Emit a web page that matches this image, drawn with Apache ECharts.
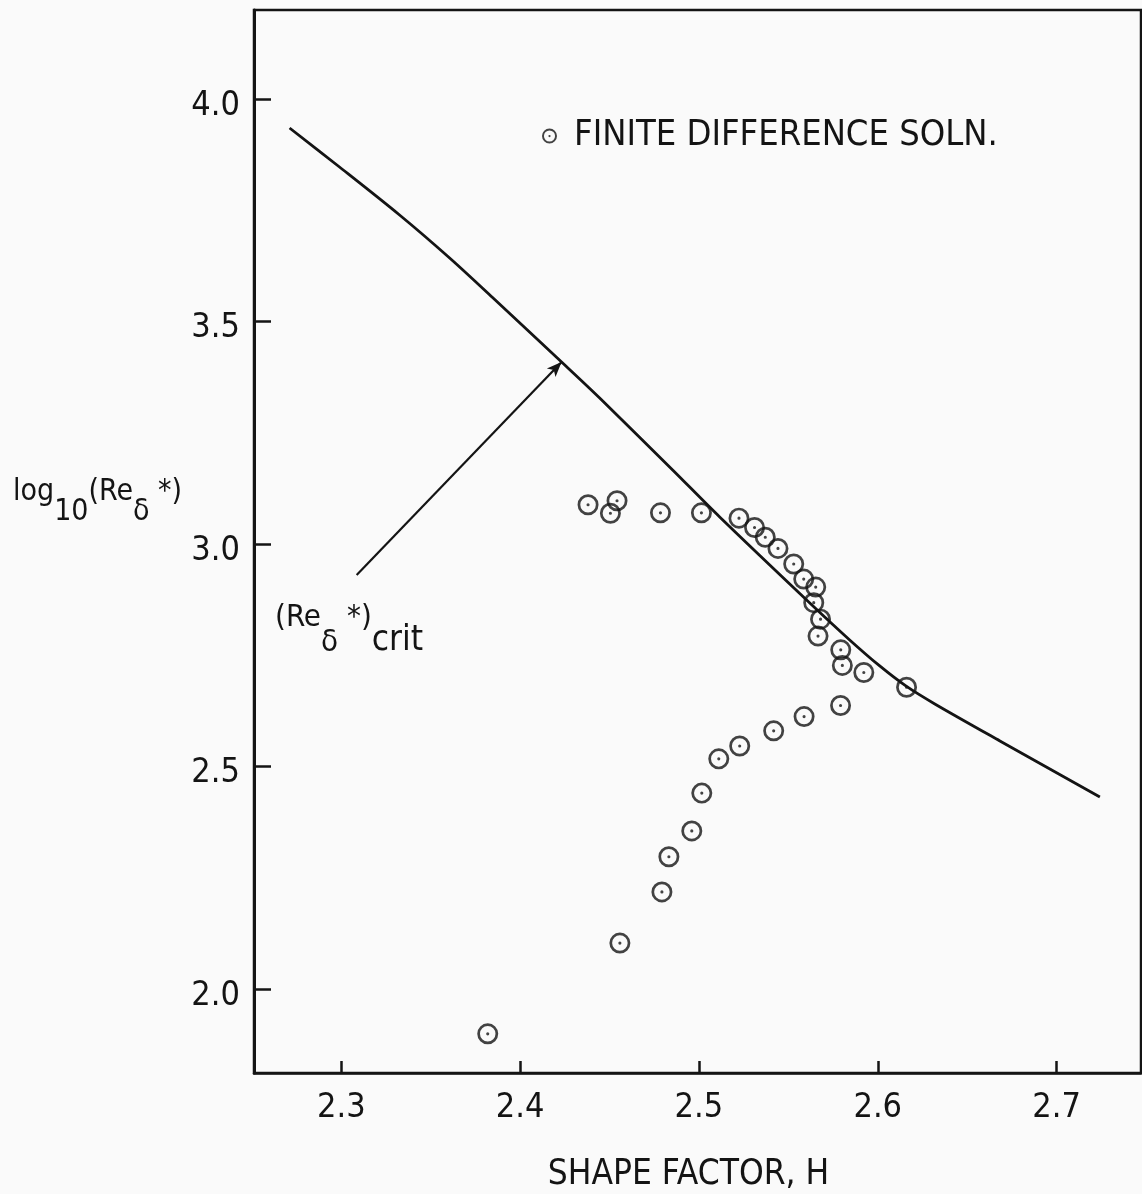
<!DOCTYPE html>
<html><head><meta charset="utf-8">
<script src="https://cdn.jsdelivr.net/npm/echarts@6/dist/echarts.min.js"></script>
<style>html,body{margin:0;padding:0;background:#fafafa}#c{width:1142px;height:1194px}</style>
</head><body><div id="c"></div>
<script>
// Critical Reynolds number curve (shape factor H, log10 Re)
const curveH = [2.2711, 2.2990, 2.3326, 2.3606, 2.3846, 2.4232, 2.4445, 2.4853, 2.5116, 2.5620,
  2.5843, 2.6011, 2.6157, 2.6319, 2.6683, 2.7242];
const curveV = [3.9348, 3.8472, 3.7393, 3.6427, 3.5539, 3.4090, 3.3281, 3.1663, 3.0607, 2.8674,
  2.7843, 2.7258, 2.6809, 2.6404, 2.5573, 2.4315];
// Finite difference solution points
const pointsH = [2.438, 2.4542, 2.4505, 2.4785, 2.5014, 2.5224, 2.5311, 2.5371, 2.5442, 2.553,
  2.5586, 2.5653, 2.5642, 2.568, 2.5666, 2.5793, 2.5802, 2.5922, 2.6161,
  2.5792, 2.5588, 2.5418, 2.5228, 2.5111, 2.5016, 2.4960, 2.4832, 2.4793, 2.4558, 2.3819];
const pointsV = [3.088, 3.097, 3.069, 3.070, 3.070, 3.058, 3.037, 3.015, 2.990, 2.955,
  2.921, 2.903, 2.868, 2.831, 2.793, 2.762, 2.727, 2.711, 2.678,
  2.637, 2.612, 2.580, 2.546, 2.517, 2.440, 2.355, 2.297, 2.218, 2.103, 1.899];
const xTicks = [2.3, 2.4, 2.5, 2.6, 2.7];
const yTicks = [2.0, 2.5, 3.0, 3.5, 4.0];
const arrowFrom = [2.3086, 2.930];
const arrowTo = [2.4232, 3.4090];
const legendName = 'FINITE DIFFERENCE SOLN.';
const xName = 'SHAPE FACTOR, H';

const INK = '#141414';
const FONT = "'DejaVu Sans Condensed', 'Liberation Sans Narrow', 'DejaVu Sans', sans-serif";
const ring = 'path://M0,10 A10,10 0 1,1 20,10 A10,10 0 1,1 0,10 Z M2.6,10 A7.4,7.4 0 1,0 17.4,10 A7.4,7.4 0 1,0 2.6,10 Z M8.5,10 A1.5,1.5 0 1,1 11.5,10 A1.5,1.5 0 1,1 8.5,10 Z';

const curveData = curveH.map((h, i) => [h, curveV[i]]);
const pointData = pointsH.map((h, i) => [h, pointsV[i]]);

const chart = echarts.init(document.getElementById('c'), null, {renderer: 'canvas'});
chart.setOption({
  animation: false,
  backgroundColor: '#fafafa',
  textStyle: {fontFamily: FONT, color: INK},
  grid: {left: 254, right: 1, top: 10, bottom: 121, show: true, borderColor: INK, borderWidth: 2.5,
    containLabel: false, outerBoundsMode: 'none'},
  legend: {
    data: [{name: legendName, icon: ring}],
    left: 537, top: 113, itemWidth: 15, itemHeight: 15,
    textStyle: {fontSize: 36, color: INK, fontFamily: FONT, padding: [0, 0, 0, 12]},
    selectedMode: false
  },
  xAxis: {
    type: 'value', min: 2.2512, max: 2.7472,
    axisLine: {lineStyle: {color: INK, width: 2.5}},
    axisTick: {inside: true, length: 12, customValues: xTicks, lineStyle: {color: INK, width: 2.5}},
    axisLabel: {customValues: xTicks, formatter: v => v.toFixed(1), fontSize: 34, margin: 18, color: INK, fontFamily: FONT},
    splitLine: {show: false},
    name: xName, nameLocation: 'middle', nameGap: 84,
    nameTextStyle: {fontSize: 35, color: INK, fontFamily: FONT, padding: [0, 18, 0, 0]}
  },
  yAxis: {
    type: 'value', min: 1.811, max: 4.2,
    axisLine: {lineStyle: {color: INK, width: 3}},
    axisTick: {inside: true, length: 17, customValues: yTicks, lineStyle: {color: INK, width: 2.5}},
    axisLabel: {customValues: yTicks, formatter: v => v.toFixed(1), fontSize: 34, margin: 14, color: INK, fontFamily: FONT,
      verticalAlign: 'top', lineHeight: 14},
    splitLine: {show: false}
  },
  graphic: [
    {type: 'text', x: 13, y: 477, style: {
      text: '{m|log}{s|10}{m|(Re}{s|δ}{m| *)}', fill: INK, font: '30px ' + FONT,
      rich: {
        m: {fontSize: 30, lineHeight: 30, verticalAlign: 'top', fontFamily: FONT, fill: INK},
        s: {fontSize: 30, lineHeight: 50, verticalAlign: 'bottom', fontFamily: FONT, fill: INK}
      }}},
    {type: 'text', x: 275, y: 602, style: {
      text: '{m|(Re}{s|δ}{m| *)}{c|crit}', fill: INK, font: '30px ' + FONT,
      rich: {
        m: {fontSize: 31, lineHeight: 30, verticalAlign: 'top', fontFamily: FONT, fill: INK},
        s: {fontSize: 31, lineHeight: 52, verticalAlign: 'bottom', fontFamily: FONT, fill: INK},
        c: {fontSize: 35, lineHeight: 56, verticalAlign: 'bottom', fontFamily: FONT, fill: INK}
      }}}
  ],
  series: [
    {
      name: 'crit', type: 'line', data: curveData, smooth: 0.3, symbol: 'none',
      lineStyle: {color: INK, width: 2.8}, z: 2,
      markLine: {
        silent: true, symbol: ['none', 'arrow'], symbolSize: [9, 15],
        lineStyle: {color: INK, width: 2.2, type: 'solid'}, label: {show: false},
        data: [[{coord: arrowFrom}, {coord: arrowTo}]]
      }
    },
    {
      name: legendName, type: 'scatter', data: pointData, symbol: ring, symbolSize: 21,
      itemStyle: {color: INK}, z: 3
    }
  ]
});
</script>
</body></html>
